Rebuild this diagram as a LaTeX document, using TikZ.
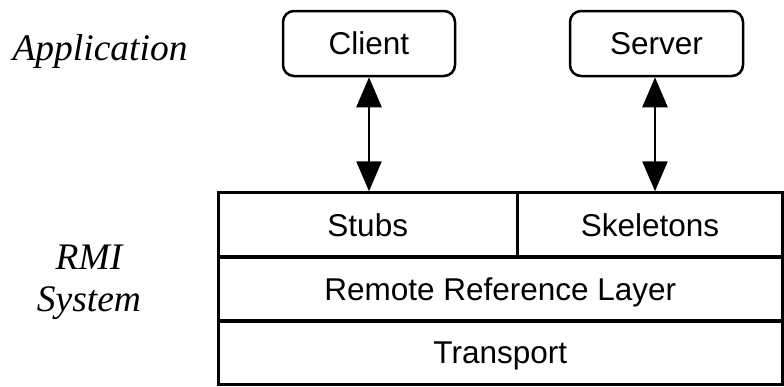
\documentclass[tikz,border=0pt]{standalone}
\usepackage{fontspec}
\setmainfont{Liberation Serif}
\setsansfont{Liberation Sans}
\usepackage{tikz}
\usetikzlibrary{positioning, arrows.meta}

\begin{document}
\begin{tikzpicture}[x=1pt,y=-1pt]
		\tikzstyle{layer} = [draw, line width=3pt, inner sep=0, text height=22.6pt, text depth=0pt, font=\sffamily\fontsize{31.5}{36}\selectfont, text centered]
		\tikzstyle{app} = [draw, line width=2.5pt, rounded corners=11pt, inner sep=0, minimum height=65pt, text height=22.6pt, text depth=0pt, font=\sffamily\fontsize{31.5}{36}\selectfont, text centered]
		\tikzstyle{biarrow} = [{Triangle[length=30pt,width=25pt]}-{Triangle[length=30pt,width=25pt]}, line width=2.5pt]
		\tikzstyle{sidetext} = [font=\itshape\fontsize{37.5}{42}\selectfont, align=center]
		\useasboundingbox (0,0) rectangle (784,386);
		% layers of the RMI system
		\node [layer, minimum width=299.5pt, minimum height=64.5pt] (v1) at (367.75,225) {Stubs};
		\node [layer, minimum width=265pt, minimum height=64.5pt] (v2) at (650,225) {Skeletons};
		\node [layer, minimum width=564.5pt, minimum height=64.5pt] (v3) at (500.25,289) {Remote Reference Layer};
		\node [layer, minimum width=564.5pt, minimum height=63.5pt] (v4) at (500.25,352.25) {Transport};
		% application
		\node [app, minimum width=172pt] (v5) at (369,43.5) {Client};
		\node [app, minimum width=173pt] (v6) at (656.5,43.5) {Server};
		\draw [biarrow] (v5.south) -- (v5.south |- v1.north);
		\draw [biarrow] ([xshift=-1.5pt]v6.south) -- ([xshift=-1.5pt]v6.south |- v2.north);
		% side texts
		\node [sidetext, anchor=base] (v7) at (100,60) {Application};
		\node [sidetext] (v8) at (89,282.5) {RMI\\System};
\end{tikzpicture}
\end{document}
